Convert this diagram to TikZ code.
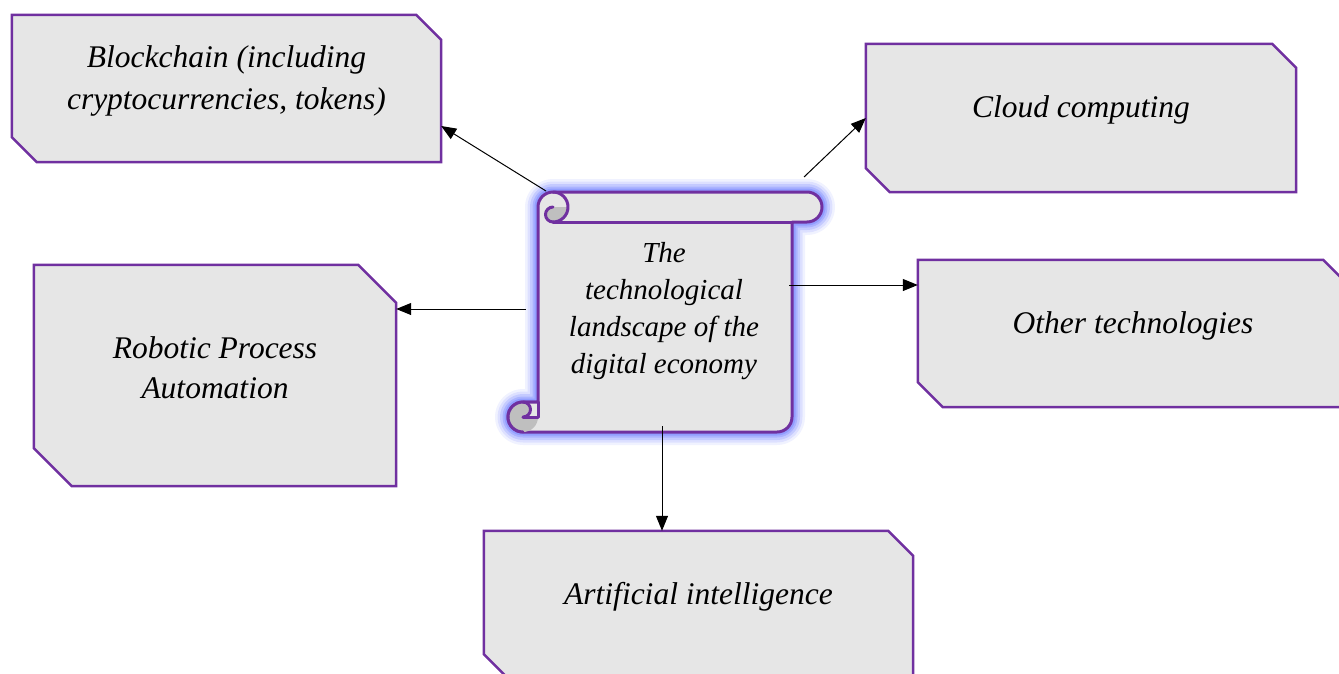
\documentclass[tikz,border=0pt]{standalone}
\usepackage{fontspec}
\setmainfont{Liberation Serif}
\usetikzlibrary{arrows.meta}
\definecolor{boxpurple}{HTML}{7030A0}
\definecolor{boxfill}{HTML}{E6E6E6}
\definecolor{curlgray}{HTML}{BFBFBF}
\definecolor{glowblue}{RGB}{110,125,255}
\begin{document}
\begin{tikzpicture}[x=1pt,y=-1pt,
  holder/.style={rectangle,draw=none,inner sep=0pt},
  boxline/.style={draw=boxpurple,line width=2.5pt,fill=boxfill,line join=miter},
  lbl/.style={align=center,inner sep=0pt,font=\itshape\fontsize{31.5}{42}\selectfont},
  arr/.style={draw=black,line width=1pt,-{Triangle[length=15pt,width=12pt]}},
  scrollline/.style={draw=boxpurple,line width=3pt,line join=round,line cap=round}]
\useasboundingbox (0,0) rectangle (1339,673);
\clip (0,0) rectangle (1339,673);

% boxes
\node[holder,minimum width=429pt,minimum height=147pt] (bc) at (226.5,88.5) {};
\node[holder,minimum width=430pt,minimum height=148pt] (cc) at (1081,118) {};
\node[holder,minimum width=362pt,minimum height=221pt] (rpa) at (215,375.5) {};
\node[holder,minimum width=430pt,minimum height=147pt] (ot) at (1133,333.5) {};
\node[holder,minimum width=429pt,minimum height=148pt] (ai) at (698.5,605) {};

\foreach \n/\c in {bc/25pt,cc/24pt,rpa/38pt,ot/25pt,ai/25pt}{
  \path[boxline] (\n.north west) -- ([xshift=-\c]\n.north east) -- ([yshift=-\c]\n.north east)
    -- (\n.south east) -- ([xshift=\c]\n.south west) -- ([yshift=\c]\n.south west) -- cycle;
}

\node[lbl] (bct) at ([yshift=8pt]bc.center) {Blockchain (including\\cryptocurrencies, tokens)};
\node[lbl] (cct) at ([yshift=8pt]cc.center) {Cloud computing};
\node[lbl,font=\itshape\fontsize{31.5}{40}\selectfont] (rpat) at ([yshift=8pt]rpa.center) {Robotic Process\\Automation};
\node[lbl] (ott) at ([yshift=8pt]ot.center) {Other technologies};
\node[lbl] (ait) at ([yshift=8pt]ai.center) {Artificial intelligence};

% scroll with glow
\path[fill=boxfill,
  preaction={draw=glowblue,line width=26pt,opacity=0.10,line join=round},
  preaction={draw=glowblue,line width=21pt,opacity=0.15,line join=round},
  preaction={draw=glowblue,line width=16pt,opacity=0.22,line join=round},
  preaction={draw=glowblue,line width=11pt,opacity=0.30,line join=round},
  preaction={draw=glowblue,line width=7pt,opacity=0.40,line join=round},
  scrollline]
  (538,402) -- (538,207) arc[start angle=180,end angle=270,radius=15]
  -- (807,192) arc[start angle=-90,end angle=90,radius=15]
  -- (792,222) -- (792,417) arc[start angle=0,end angle=90,radius=15]
  -- (523,432) arc[start angle=90,end angle=270,radius=15] -- cycle;
% top curl
\path[fill=curlgray] (568,207) arc[start angle=0,end angle=90,radius=15]
  arc[start angle=90,end angle=270,radius=7.5] -- cycle;
\draw[scrollline] (553,192) arc[start angle=270,end angle=450,radius=15];
\draw[scrollline] (553,222) arc[start angle=90,end angle=270,radius=7.5];
\draw[scrollline] (553,222) -- (792,222);
% bottom curl
\path[fill=curlgray] (523,417) circle[radius=15];
\path[fill=boxfill] (523,402) -- (538,402) -- (538,417) -- (523,417)
  arc[start angle=90,end angle=-90,radius=7.5] -- cycle;
\draw[scrollline] (523,417) arc[start angle=90,end angle=-90,radius=7.5];
\draw[scrollline] (523,417) -- (538,417);
\draw[scrollline] (538,402) -- (538,417);
\draw[scrollline] (508,417) arc[start angle=180,end angle=90,radius=15];
\draw[scrollline] (508,417) arc[start angle=180,end angle=270,radius=15] -- (538,402);

\node[lbl,font=\itshape\fontsize{29}{37}\selectfont] (sc) at (664,311)
  {The\\technological\\landscape of the\\digital economy};

% connectors
\coordinate (s1) at (546,191);
\coordinate (s2) at (804,177);
\coordinate (s3) at (526,309);
\coordinate (s4) at (789,285);
\coordinate (s5) at (662,426);
\draw[arr] (s1) -- ([yshift=-37.5pt]bc.east);
\draw[arr] (s2) -- (cc.west);
\draw[arr] (s3) -- ([yshift=66.5pt]rpa.east);
\draw[arr] (s4) -- ([yshift=48.5pt]ot.west);
\draw[arr] (s5) -- ([xshift=-36.5pt]ai.north);
\end{tikzpicture}
\end{document}
